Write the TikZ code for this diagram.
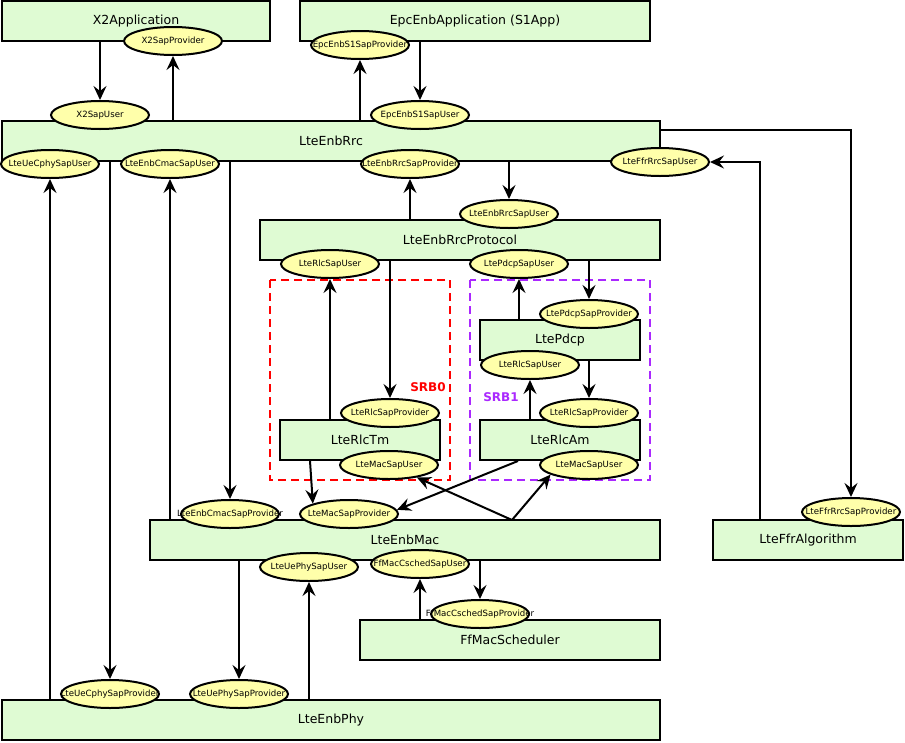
\documentclass[tikz,border=0pt]{standalone}
\usepackage{fontspec}
\setmainfont{DejaVu Sans}
\usetikzlibrary{shapes.geometric,arrows.meta}
\definecolor{boxgreen}{RGB}{223,251,211}
\definecolor{sapyellow}{RGB}{255,255,170}
\definecolor{srbpurple}{RGB}{170,40,255}
\begin{document}
\begin{tikzpicture}[x=1pt, y=-1pt, line width=2pt, >={Stealth[length=14pt,width=13pt,inset=5pt]}]
	\tikzset{khoi/.style={draw, fill=boxgreen, inner sep=0, minimum height=40, font=\fontsize{12.5}{14}\selectfont},
		sap/.style={draw, fill=sapyellow, ellipse, inner sep=0, minimum width=98, minimum height=28, font=\fontsize{8.6}{10}\selectfont,
			execute at begin node={\setbox0=\hbox\bgroup}, execute at end node={\egroup\hbox to 0pt{\hss\box0\hss}}},
		srb/.style={dashed, dash pattern=on 8pt off 5pt, line width=1.6pt}}
	\useasboundingbox (0,0) rectangle (905,742);
	%SRB
	\draw[srb, red] (270,280) rectangle (450,480);
	\draw[srb, srbpurple] (470,280) rectangle (650,480);
	\node[anchor=east, text=red, font=\fontsize{12}{14}\bfseries] (srb0) at (450,387) {SRB0};
	\node[anchor=west, text=srbpurple, font=\fontsize{12}{14}\bfseries] (srb1) at (479,397) {SRB1};
	%Khối
	\node[khoi, minimum width=268] (x2app) at (136,21) {X2Application};
	\node[khoi, minimum width=350] (epcapp) at (475,21) {EpcEnbApplication (S1App)};
	\node[khoi, minimum width=658] (rrc) at (331,141) {LteEnbRrc};
	\node[khoi, minimum width=400] (proto) at (460,240) {LteEnbRrcProtocol};
	\node[khoi, minimum width=160] (pdcp) at (560,340) {LtePdcp};
	\node[khoi, minimum width=160] (rlctm) at (360,440) {LteRlcTm};
	\node[khoi, minimum width=160] (rlcam) at (560,440) {LteRlcAm};
	\node[khoi, minimum width=510] (mac) at (405,540) {LteEnbMac};
	\node[khoi, minimum width=190] (ffr) at (808,540) {LteFfrAlgorithm};
	\node[khoi, minimum width=300] (sched) at (510,640) {FfMacScheduler};
	\node[khoi, minimum width=658] (phy) at (331,720) {LteEnbPhy};
	%SAP
	\node[sap] (x2prov) at (173,41) {X2SapProvider};
	\node[sap] (s1prov) at (360,45) {EpcEnbS1SapProvider};
	\node[sap] (x2user) at (100,115) {X2SapUser};
	\node[sap] (s1user) at (420,115) {EpcEnbS1SapUser};
	\node[sap] (cphyuser) at (50,164) {LteUeCphySapUser};
	\node[sap] (cmacuser) at (170,164) {LteEnbCmacSapUser};
	\node[sap] (rrcprov) at (410,164) {LteEnbRrcSapProvider};
	\node[sap] (ffruser) at (660,162) {LteFfrRrcSapUser};
	\node[sap] (rrcuser) at (509,214) {LteEnbRrcSapUser};
	\node[sap] (rlcuserA) at (330,264) {LteRlcSapUser};
	\node[sap] (pdcpuser) at (519,264) {LtePdcpSapUser};
	\node[sap] (pdcpprov) at (589,314) {LtePdcpSapProvider};
	\node[sap] (rlcuserB) at (530,365) {LteRlcSapUser};
	\node[sap] (rlcprovA) at (390,413) {LteRlcSapProvider};
	\node[sap] (rlcprovB) at (589,413) {LteRlcSapProvider};
	\node[sap] (macuserA) at (389,465) {LteMacSapUser};
	\node[sap] (macuserB) at (589,465) {LteMacSapUser};
	\node[sap] (cmacprov) at (230,514) {LteEnbCmacSapProvider};
	\node[sap] (macprov) at (349,514) {LteMacSapProvider};
	\node[sap] (ffrprov) at (851,512) {LteFfrRrcSapProvider};
	\node[sap] (phyuser) at (309,567) {LteUePhySapUser};
	\node[sap] (cschuser) at (420,564) {FfMacCschedSapUser};
	\node[sap] (cschprov) at (480,614) {FfMacCschedSapProvider};
	\node[sap] (cphyprov) at (110,694) {LteUeCphySapProvider};
	\node[sap] (phyprov) at (239,694) {LteUePhySapProvider};
	\coordinate (macjoint) at (512,520);
	%Mũi tên
	\draw[->] (x2app.south -| x2user) -- (x2user);
	\draw[->] (rrc.north -| x2prov) -- (x2prov);
	\draw[->] (rrc.north -| s1prov) -- (s1prov);
	\draw[->] (epcapp.south -| s1user) -- (s1user);
	\draw[->] ([yshift=11pt]rrc.east) -| (ffrprov);
	\draw[->] ([xshift=-48pt]ffr.north) |- (ffruser);
	\draw[->] (rrc.south -| rrcuser) -- (rrcuser);
	\draw[->] (proto.north -| rrcprov) -- (rrcprov);
	\draw[->] (proto.south -| rlcprovA) -- (rlcprovA);
	\draw[->] (rlctm.north -| rlcuserA) -- (rlcuserA);
	\draw[->] (proto.south -| pdcpprov) -- (pdcpprov);
	\draw[->] (pdcp.north -| pdcpuser) -- (pdcpuser);
	\draw[->] (pdcp.south -| rlcprovB) -- (rlcprovB);
	\draw[->] (rlcam.north -| rlcuserB) -- (rlcuserB);
	\draw[->] ([xshift=-50pt]rlctm.south) -- (macprov.164);
	\draw[->] ([xshift=-42pt]rlcam.south) -- (macprov.5);
	\draw[->] (macjoint) -- (macuserA);
	\draw[->] (macjoint) -- (macuserB.194);
	\draw[->] (phy.north -| cphyuser) -- (cphyuser);
	\draw[->] (rrc.south -| cphyprov) -- (cphyprov);
	\draw[->] (mac.north -| cmacuser) -- (cmacuser);
	\draw[->] (rrc.south -| cmacprov) -- (cmacprov);
	\draw[->] (mac.south -| phyprov) -- (phyprov);
	\draw[->] (phy.north -| phyuser) -- (phyuser);
	\draw[->] (sched.north -| cschuser) -- (cschuser);
	\draw[->] (mac.south -| cschprov) -- (cschprov);
\end{tikzpicture}
\end{document}
